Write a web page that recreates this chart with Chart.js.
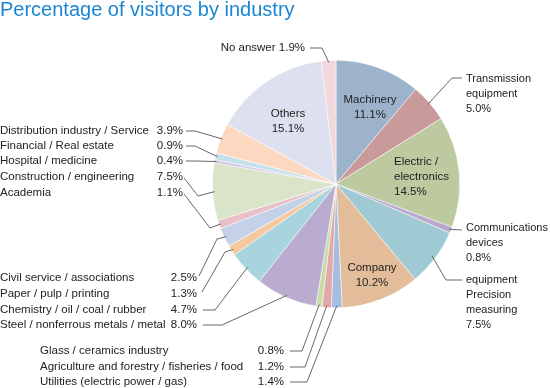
<!DOCTYPE html>
<html>
<head>
    <title>Percentage of visitors by industry</title>
    <style>
        body { margin: 0; background: #fff; }
        canvas { display: block; }
    </style>
    <script src="https://cdn.jsdelivr.net/npm/chart.js"></script>
</head>
<body>
<canvas id="pieChart" width="550" height="388"></canvas>
<script>
// slices, clockwise from 12 o'clock
const categories = [
    'Machinery', 'Transmission equipment', 'Electric / electronics', 'Communications devices',
    'Precision measuring equipment', 'Company', 'Utilities (electric power / gas)',
    'Agriculture and forestry / fisheries / food', 'Glass / ceramics industry',
    'Steel / nonferrous metals / metal', 'Chemistry / oil / coal / rubber', 'Paper / pulp / printing',
    'Civil service / associations', 'Academia', 'Construction / engineering', 'Hospital / medicine',
    'Financial / Real estate', 'Distribution industry / Service', 'Others', 'No answer'
];
const values = [11.1, 5.0, 14.5, 0.8, 7.5, 10.2, 1.4, 1.2, 0.8, 8.0, 4.7, 1.3, 2.5, 1.1, 7.5, 0.4, 0.9, 3.9, 15.1, 1.9];
const colors = [
    '#9db3cc', '#c99a9a', '#bdca9f', '#b9a9cd', '#9fcad3', '#e3bc99', '#a6bde0',
    '#e0a8a8', '#c8dba8', '#b9acd0', '#a8d4de', '#f6c8a0', '#c3d1e9', '#e8c0c8',
    '#d9e4c8', '#d4c4e4', '#c4e0ea', '#fdd8c0', '#dde0ee', '#f0d8dc'
];

const FONT = '11.5px "Liberation Sans", Arial, sans-serif';
const FONT_RIGHT = '11px "Liberation Sans", Arial, sans-serif';
const pct = v => v.toFixed(1) + '%';

// labels drawn inside the pie
const inner = [
    { i: 0, x: 370, y: 100, lines: ['Machinery'] },
    { i: 18, x: 288, y: 114, lines: ['Others'] },
    { i: 2, x: 394, y: 162, lines: ['Electric /', 'electronics'], align: 'left' },
    { i: 5, x: 372, y: 268, lines: ['Company'] }
];
// labels outside: text anchor, leader line start and elbow
const outer = [
    { i: 19, x: 305, y: 48, align: 'right', text: 'No answer 1.9%', from: [310, 48], elbow: [322, 48] },
    { i: 1, x: 466, y: 79, lines: ['Transmission', 'equipment'], from: [462, 78], elbow: [452, 78] },
    { i: 3, x: 466, y: 228, lines: ['Communications', 'devices'], from: [462, 230], elbow: null },
    { i: 4, x: 466, y: 280, lines: ['equipment', 'Precision', 'measuring'], from: [462, 280], elbow: [446, 280], inset: 4 },
    { i: 17, row: 131, from: [186, 131], elbow: [195, 131] },
    { i: 16, row: 146, from: [186, 146], elbow: [195, 146] },
    { i: 15, row: 161, from: [186, 161], elbow: [195, 161] },
    { i: 14, row: 177, from: [184, 178], elbow: [198, 196] },
    { i: 13, row: 193, from: [184, 194], elbow: [210, 228] },
    { i: 12, row2: 278, from: [199, 276], elbow: [217, 239] },
    { i: 11, row2: 294, from: [202, 292], elbow: [225, 252] },
    { i: 10, row2: 310, from: [203, 310], elbow: [215, 310] },
    { i: 9, row2: 325, from: [203, 325], elbow: [222, 325] },
    { i: 8, row3: 351, from: [290, 351], elbow: [302, 351] },
    { i: 7, row3: 367, from: [290, 367], elbow: [305, 367] },
    { i: 6, row3: 382, from: [290, 382], elbow: [307, 382] }
];

const labelPlugin = {
    id: 'labels',
    afterDraw(chart) {
        const ctx = chart.ctx;
        const arcs = chart.getDatasetMeta(0).data;
        ctx.save();
        // title
        ctx.fillStyle = '#1a86d2';
        ctx.font = '20px "Liberation Sans", Arial, sans-serif';
        ctx.textBaseline = 'middle';
        ctx.textAlign = 'left';
        ctx.fillText('Percentage of visitors by industry', 0, 10);

        ctx.font = FONT;
        ctx.fillStyle = '#222';
        inner.forEach(l => {
            ctx.textAlign = l.align || 'center';
            const rows = l.lines.concat([pct(values[l.i])]);
            rows.forEach((t, k) => ctx.fillText(t, l.x, l.y + k * 15));
        });

        outer.forEach(l => {
            const a = arcs[l.i];
            const mid = (a.startAngle + a.endAngle) / 2;
            const r = a.outerRadius - (l.inset || 2);
            const px = a.x + Math.cos(mid) * r, py = a.y + Math.sin(mid) * r;
            ctx.strokeStyle = '#666';
            ctx.lineWidth = 1;
            ctx.beginPath();
            ctx.moveTo(l.from[0], l.from[1]);
            if (l.elbow) ctx.lineTo(l.elbow[0], l.elbow[1]);
            ctx.lineTo(px, py);
            ctx.stroke();

            ctx.fillStyle = '#222';
            ctx.font = FONT;
            if (l.text) {
                ctx.textAlign = l.align;
                ctx.fillText(l.text, l.x, l.y);
            } else if (l.lines) {
                ctx.font = FONT_RIGHT;
                ctx.textAlign = 'left';
                l.lines.concat([pct(values[l.i])]).forEach((t, k) => ctx.fillText(t, l.x, l.y + k * 15));
            } else if (l.row) {
                ctx.textAlign = 'left';
                ctx.fillText(categories[l.i], 0, l.row);
                ctx.textAlign = 'right';
                ctx.fillText(pct(values[l.i]), 183, l.row);
            } else if (l.row2) {
                ctx.textAlign = 'left';
                ctx.fillText(categories[l.i], 0, l.row2);
                ctx.textAlign = 'right';
                ctx.fillText(pct(values[l.i]), 197, l.row2);
            } else if (l.row3) {
                ctx.textAlign = 'left';
                ctx.fillText(categories[l.i], 40, l.row3);
                ctx.textAlign = 'right';
                ctx.fillText(pct(values[l.i]), 284, l.row3);
            }
        });
        ctx.restore();
    }
};

new Chart(document.getElementById('pieChart').getContext('2d'), {
    type: 'pie',
    data: {
        labels: categories,
        datasets: [{ data: values, backgroundColor: colors, borderColor: '#fff', borderWidth: 0.5 }]
    },
    options: {
        responsive: false,
        animation: false,
        layout: { padding: { left: 212, right: 90, top: 60, bottom: 80 } },
        plugins: { legend: { display: false }, tooltip: { enabled: false } }
    },
    plugins: [labelPlugin]
});
</script>
</body>
</html>
